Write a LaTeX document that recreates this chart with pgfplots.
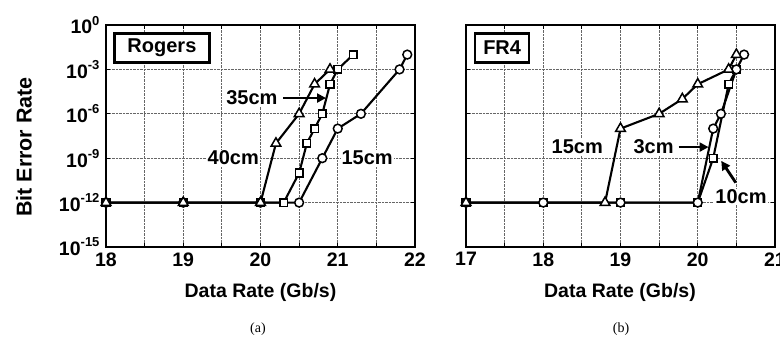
\documentclass[border=0pt]{standalone}
\usepackage{fontspec}
\setmainfont{Liberation Sans}
\newfontfamily\serifcap{Liberation Serif}
\usepackage{pgfplots}
\pgfplotsset{compat=1.18}
\usetikzlibrary{arrows.meta}
\newcommand\tlab[1]{10\raisebox{0.45em}{\fontsize{13}{13}\selectfont\bfseries #1}}
\tikzset{
  myser/.style={line width=2.1pt, black, mark options={solid, fill=white, line width=1.5pt}},
  mytri/.style={myser, mark=triangle*, mark size=5.6pt},
  mysq/.style={myser, mark=square*, mark size=3.8pt},
  mycir/.style={myser, mark=*, mark size=4.4pt},
  mylab/.style={font=\fontsize{20}{20}\selectfont\bfseries, fill=white, inner sep=1pt},
  mybox/.style={font=\fontsize{20}{20}\selectfont\bfseries, fill=white, draw=black, line width=2.6pt, minimum height=29pt, inner sep=0pt},
  myarr/.style={-{Triangle[length=9pt,width=9pt]}, line width=2.8pt, black},
}
\begin{document}
\begin{tikzpicture}
\useasboundingbox (0pt,0pt) rectangle (780pt,337pt);
% ---------- (a) Rogers ----------
\begin{axis}[scale only axis, width=309pt, height=222pt,
    at={(106pt,90pt)}, anchor=south west,
    ymode=log, ymin=1e-15, ymax=1,
    ytick={1e-15,1e-12,1e-9,1e-6,1e-3,1},
    yminorticks=false,
    xmin=18, xmax=22, xtick={18,19,20,21,22},
    minor x tick num=1,
    grid=both,
    major grid style={densely dotted, black!60, line width=0.8pt},
    minor grid style={densely dotted, black!60, line width=0.8pt},
    axis line style={line width=1.9pt},
    major tick style={black, line width=1pt},
    minor tick style={black, line width=1pt},
    major tick length=4pt, minor tick length=4pt,
    tick align=inside,
    xticklabel style={font=\fontsize{19.5}{19.5}\selectfont\bfseries, yshift=-2pt},
    yticklabel style={font=\fontsize{19.5}{19.5}\selectfont\bfseries, xshift=-3pt},
    xticklabels={18,19,20,21,22},
    yticklabels={\tlab{-15},\tlab{-12},\tlab{-9},\tlab{-6},\tlab{-3},\tlab{0}},
    clip=false]
\addplot[mysq] coordinates {(18,1e-12)(19,1e-12)(20,1e-12)(20.3,1e-12)(20.5,1e-10)(20.6,1e-8)(20.7,1e-7)(20.8,1e-6)(20.9,1e-4)(21.0,1e-3)(21.2,1e-2)};
\addplot[mycir] coordinates {(18,1e-12)(19,1e-12)(20,1e-12)(20.5,1e-12)(20.8,1e-9)(21.0,1e-7)(21.3,1e-6)(21.8,1e-3)(21.9,1e-2)};
\addplot[mytri] coordinates {(18,1e-12)(19,1e-12)(20,1e-12)(20.2,1e-8)(20.5,1e-6)(20.7,1e-4)(20.9,1e-3)};
\node[mybox, minimum width=95pt] at (rel axis cs:0.181,0.896) {Rogers};
\node[mylab] at (rel axis cs:0.472,0.671) {35cm};
\draw[myarr] (rel axis cs:0.573,0.671) -- (rel axis cs:0.712,0.671);
\node[mylab] at (rel axis cs:0.412,0.401) {40cm};
\node[mylab] at (rel axis cs:0.845,0.401) {15cm};
\end{axis}
% ---------- (b) FR4 ----------
\begin{axis}[scale only axis, width=309pt, height=222pt,
    at={(466pt,90pt)}, anchor=south west,
    ymode=log, ymin=1e-15, ymax=1,
    ytick={1e-15,1e-12,1e-9,1e-6,1e-3,1},
    yminorticks=false,
    xmin=17, xmax=21, xtick={17,18,19,20,21},
    minor x tick num=1,
    grid=both,
    major grid style={densely dotted, black!60, line width=0.8pt},
    minor grid style={densely dotted, black!60, line width=0.8pt},
    axis line style={line width=1.9pt},
    major tick style={black, line width=1pt},
    minor tick style={black, line width=1pt},
    major tick length=4pt, minor tick length=4pt,
    tick align=inside,
    xticklabel style={font=\fontsize{19.5}{19.5}\selectfont\bfseries, yshift=-2pt},
    xticklabels={17,18,19,20,21},
    yticklabels={},
    clip=false]
\addplot[mysq] coordinates {(17,1e-12)(18,1e-12)(19,1e-12)(20,1e-12)(20.2,1e-9)(20.4,1e-4)(20.5,1e-3)};
\addplot[mycir] coordinates {(17,1e-12)(18,1e-12)(19,1e-12)(20,1e-12)(20.2,1e-7)(20.3,1e-6)(20.5,1e-3)(20.6,1e-2)};
\addplot[mytri] coordinates {(17,1e-12)(18.8,1e-12)(19.0,1e-7)(19.5,1e-6)(19.8,1e-5)(20.0,1e-4)(20.4,1e-3)(20.5,1e-2)};
\node[mybox, minimum width=54pt] at (rel axis cs:0.117,0.896) {FR4};
\node[mylab] at (rel axis cs:0.360,0.450) {15cm};
\node[mylab] at (rel axis cs:0.607,0.450) {3cm};
\draw[myarr] (rel axis cs:0.688,0.450) -- (rel axis cs:0.785,0.450);
\node[mylab] at (rel axis cs:0.890,0.225) {10cm};
\draw[myarr] (rel axis cs:0.873,0.290) -- (rel axis cs:0.826,0.388);
\end{axis}
% ---------- labels ----------
\node[rotate=90, font=\fontsize{21.5}{22}\selectfont\bfseries] at (24pt,190pt) {Bit Error Rate};
\node[font=\fontsize{19.5}{20}\selectfont\bfseries] at (260.5pt,45pt) {Data Rate (Gb/s)};
\node[font=\fontsize{19.5}{20}\selectfont\bfseries] at (620pt,45pt) {Data Rate (Gb/s)};
\node[font=\fontsize{14}{14}\selectfont\serifcap] at (258pt,8pt) {(a)};
\node[font=\fontsize{14}{14}\selectfont\serifcap] at (621pt,8pt) {(b)};
\end{tikzpicture}
\end{document}
